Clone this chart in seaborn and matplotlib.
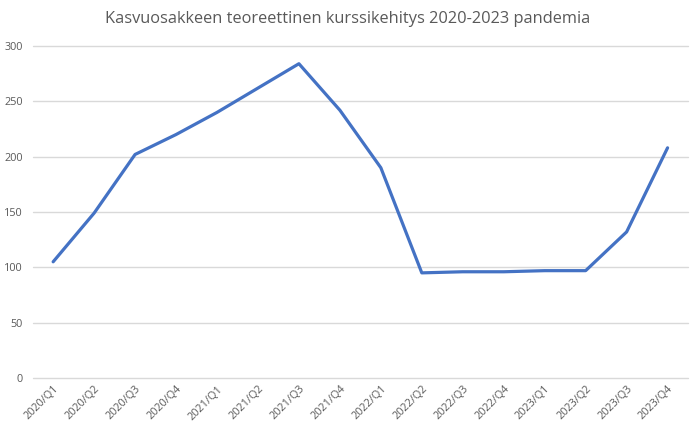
import matplotlib
matplotlib.use("Agg")
import matplotlib.pyplot as plt
import seaborn as sns
import pandas as pd

quarters = ["2020/Q1", "2020/Q2", "2020/Q3", "2020/Q4",
            "2021/Q1", "2021/Q2", "2021/Q3", "2021/Q4",
            "2022/Q1", "2022/Q2", "2022/Q3", "2022/Q4",
            "2023/Q1", "2023/Q2", "2023/Q3", "2023/Q4"]
values = [105, 149, 202, 220, 240, 262, 284, 242, 190, 95, 96, 96, 97, 97, 132, 208]
y_ticks = [0, 50, 100, 150, 200, 250, 300]
title = "Kasvuosakkeen teoreettinen kurssikehitys 2020-2023 pandemia"

sns.set_theme(style="white")
plt.rcParams['font.family'] = ['Open Sans', 'DejaVu Sans']

df = pd.DataFrame({"q": quarters, "v": values, "i": range(len(quarters))})

fig = plt.figure(figsize=(6.95, 4.32), dpi=100)
ax = fig.add_axes([0.047, 0.125, 0.943, 0.7685])
sns.lineplot(data=df, x="i", y="v", ax=ax, color="#4472C4", linewidth=2.3)

ax.set_xlim(-0.5, len(quarters) - 0.5)
ax.set_ylim(0, 300)
ax.set_yticks(y_ticks)
ax.set_xticks(range(len(quarters)))
ax.set_xticklabels(quarters, rotation=45, ha="right", rotation_mode="anchor")
ax.tick_params(axis="x", labelsize=7.8, colors="#595959", length=0, pad=4)
ax.tick_params(axis="y", labelsize=7.8, colors="#595959", length=0, pad=7)
ax.set_axisbelow(True)
ax.yaxis.grid(True, color="#D9D9D9", linewidth=1)
ax.xaxis.grid(False)
for gl in ax.get_ygridlines():
    gl.set_clip_on(False)
for s in ax.spines.values():
    s.set_visible(False)
ax.set_xlabel("")
ax.set_ylabel("")
fig.text(0.5, 0.955, title, ha="center", va="center", fontsize=11.8, color="#595959")

fig.savefig("out.png", dpi=100)
